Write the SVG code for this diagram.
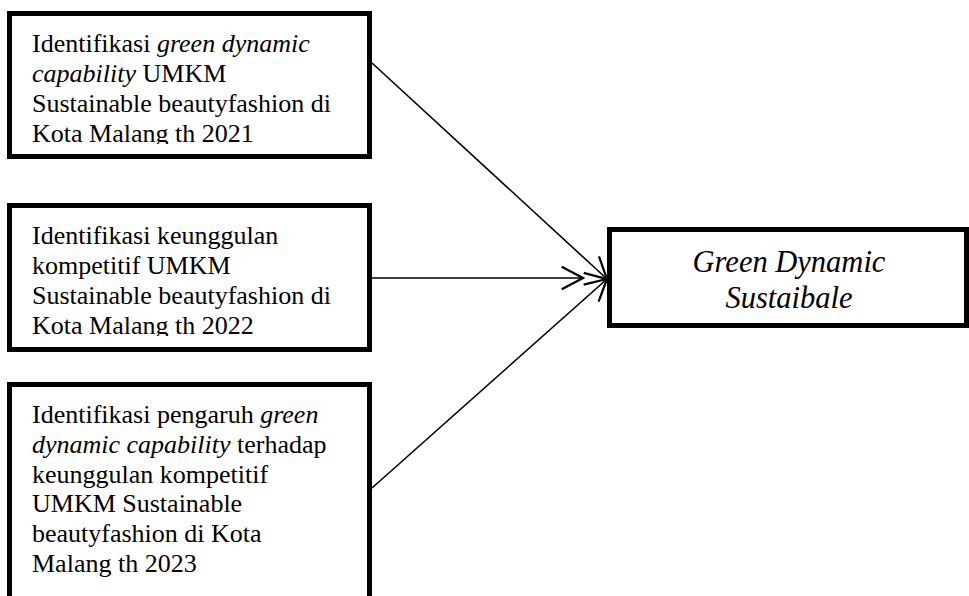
<svg xmlns="http://www.w3.org/2000/svg" width="969" height="596" viewBox="0 0 969 596">
<style>
.box{fill:#fff;stroke:#000;stroke-width:5}
.t{font-family:"Liberation Serif","Times New Roman",serif;font-size:26px;fill:#000}
.tt{font-family:"Liberation Serif","Times New Roman",serif;font-size:30.5px;font-style:italic;fill:#000}
.i{font-style:italic}
.c{fill:none;stroke:#000;stroke-width:1.6}
</style>
<defs>
<marker id="arr" markerUnits="userSpaceOnUse" markerWidth="30" markerHeight="30" viewBox="-20 -12 24 24" refX="0" refY="0" orient="auto">
<path d="M-17,-9 L0,0 L-17,9" fill="none" stroke="#000" stroke-width="1.8"/>
</marker>
<clipPath id="c1"><rect x="12" y="16" width="355" height="128"/></clipPath>
<clipPath id="c2"><rect x="12" y="208" width="355" height="128"/></clipPath>
</defs>
<rect width="969" height="596" fill="#fff"/>
<g id="connectors">
<line class="c" x1="372" y1="63" x2="607" y2="279" marker-end="url(#arr)"/>
<line class="c" x1="372" y1="278" x2="583" y2="278" marker-end="url(#arr)"/>
<line class="c" x1="372" y1="488" x2="607" y2="279" marker-end="url(#arr)"/>
</g>
<g id="node1">
<rect class="box" x="9.5" y="13.5" width="360" height="143"/>
<g clip-path="url(#c1)">
<text class="t" x="32" y="52">Identifikasi <tspan class="i">green dynamic</tspan></text>
<text class="t" x="32" y="82"><tspan class="i">capability</tspan> UMKM</text>
<text class="t" x="32" y="112">Sustainable beautyfashion di</text>
<text class="t" x="32" y="142">Kota Malang th 2021</text>
</g>
</g>
<g id="node2">
<rect class="box" x="9.5" y="205.5" width="360" height="144"/>
<g clip-path="url(#c2)">
<text class="t" x="32" y="244">Identifikasi keunggulan</text>
<text class="t" x="32" y="274">kompetitif UMKM</text>
<text class="t" x="32" y="304">Sustainable beautyfashion di</text>
<text class="t" x="32" y="334">Kota Malang th 2022</text>
</g>
</g>
<g id="node3">
<rect class="box" x="9.5" y="384.5" width="360" height="230"/>
<text class="t" x="32" y="423">Identifikasi pengaruh <tspan class="i">green</tspan></text>
<text class="t" x="32" y="453"><tspan class="i">dynamic capability</tspan> terhadap</text>
<text class="t" x="32" y="483">keunggulan kompetitif</text>
<text class="t" x="32" y="512">UMKM Sustainable</text>
<text class="t" x="32" y="542">beautyfashion di Kota</text>
<text class="t" x="32" y="572">Malang th 2023</text>
</g>
<g id="target">
<rect class="box" x="609.5" y="229.5" width="357" height="96"/>
<text class="tt" x="789" y="272" text-anchor="middle">Green Dynamic</text>
<text class="tt" x="789" y="308" text-anchor="middle">Sustaibale</text>
</g>
</svg>
